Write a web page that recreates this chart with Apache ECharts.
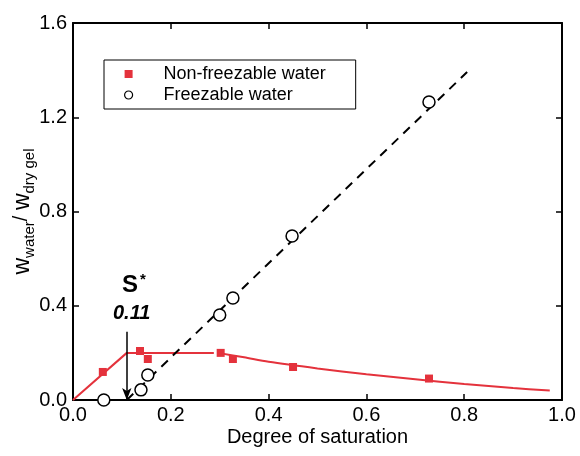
<!DOCTYPE html>
<html>
<head>
<meta charset="utf-8">
<script src="https://cdn.jsdelivr.net/npm/echarts@6/dist/echarts.min.js"></script>
<style>
  html, body { margin: 0; padding: 0; background: #fff; }
  #chart { width: 580px; height: 456px; }
</style>
</head>
<body>
<div id="chart"></div>
<script>
// data
var nonFreezable = [[0.061, 0.119], [0.137, 0.208], [0.153, 0.174], [0.302, 0.2], [0.327, 0.174], [0.45, 0.14], [0.728, 0.091]];
var freezable = [[0.063, 0.0], [0.139, 0.043], [0.153, 0.106], [0.30, 0.361], [0.327, 0.433], [0.448, 0.696], [0.728, 1.265]];
// fitted lines
var fitRise = [[0, 0], [0.11, 0.2], [0.288, 0.2]];
var fitDecay = [[0.297, 0.2], [0.35, 0.181], [0.4, 0.162], [0.5, 0.134], [0.6, 0.109], [0.7, 0.088], [0.8, 0.068], [0.9, 0.051], [0.975, 0.04]];
var freezableFit = [[0.11, 0], [0.806, 1.392]];
var sStar = 0.11;
var arrowTop = 0.29;

var red = "#e4323c";
var font = "Liberation Sans, Arial, Helvetica, sans-serif";

var chart = echarts.init(document.getElementById("chart"));

var fmt = function (v) { return v.toFixed(1); };
var axisBase = {
  type: "value",
  axisLine: { show: true, onZero: false, lineStyle: { color: "#000", width: 2 } },
  axisTick: { show: true, inside: true, length: 6, lineStyle: { color: "#000", width: 1.5 } },
  splitLine: { show: false }
};

var option = {
  backgroundColor: "#fff",
  animation: false,
  textStyle: { fontFamily: font },
  grid: { left: 73, right: 18, top: 23, bottom: 56, containLabel: false, outerBoundsMode: "none" },
  legend: {
    orient: "vertical",
    left: 104,
    top: 60,
    width: 227,
    padding: [5, 30, 5, 20],
    itemGap: 3,
    itemWidth: 8,
    itemHeight: 8,
    borderColor: "#000",
    borderWidth: 1,
    textStyle: { fontFamily: font, fontSize: 18, color: "#000", padding: [0, 0, 0, 26] },
    data: [
      { name: "Non-freezable water", icon: "rect" },
      { name: "Freezable water", icon: "circle", itemStyle: { borderWidth: 1.2 } }
    ]
  },
  xAxis: [
    Object.assign({}, axisBase, {
      min: 0, max: 1, interval: 0.2,
      position: "bottom",
      name: "Degree of saturation",
      nameLocation: "middle",
      nameGap: 27,
      nameMoveOverlap: false,
      nameTextStyle: { fontFamily: font, fontSize: 20, color: "#000" },
      axisLabel: { formatter: fmt, fontFamily: font, fontSize: 20, color: "#000", margin: 5 }
    }),
    Object.assign({}, axisBase, {
      min: 0, max: 1, interval: 0.2,
      position: "top",
      axisLabel: { show: false }
    })
  ],
  yAxis: [
    Object.assign({}, axisBase, {
      min: 0, max: 1.6, interval: 0.4,
      position: "left",
      name: "{w|w}{sub|water}{sl|/ }{w|w}{sub|dry gel}",
      nameLocation: "middle",
      nameGap: 40,
      nameMoveOverlap: false,
      nameRotate: 90,
      nameTextStyle: {
        color: "#000",
        rich: {
          w: { fontFamily: font, fontSize: 23, color: "#000", verticalAlign: "top", lineHeight: 22 },
          sl: { fontFamily: font, fontSize: 20, color: "#000", verticalAlign: "top", lineHeight: 22 },
          sub: { fontFamily: font, fontSize: 15, color: "#000", verticalAlign: "top", lineHeight: 15, padding: [11, 0, 0, 0] }
        }
      },
      axisLabel: { formatter: fmt, fontFamily: font, fontSize: 20, color: "#000", margin: 6 }
    }),
    Object.assign({}, axisBase, {
      min: 0, max: 1.6, interval: 0.4,
      position: "right",
      axisLabel: { show: false }
    })
  ],
  series: [
    {
      name: "fit rise",
      type: "line",
      data: fitRise,
      symbol: "none",
      lineStyle: { color: red, width: 2 },
      silent: true,
      z: 2
    },
    {
      name: "fit decay",
      type: "line",
      data: fitDecay,
      smooth: 0.3,
      symbol: "none",
      lineStyle: { color: red, width: 2 },
      silent: true,
      z: 2
    },
    {
      name: "freezable fit",
      type: "line",
      data: freezableFit,
      symbol: "none",
      lineStyle: { color: "#000", width: 2, type: [9, 7] },
      silent: true,
      z: 2,
      markLine: {
        silent: true,
        symbol: ["none", "arrow"],
        symbolSize: [7, 12],
        label: { show: false },
        lineStyle: { color: "#000", width: 1.5, type: "solid" },
        data: [[{ coord: [sStar, arrowTop] }, { coord: [sStar, 0] }]]
      }
    },
    {
      name: "Non-freezable water",
      type: "scatter",
      data: nonFreezable,
      symbol: "rect",
      symbolSize: 8,
      itemStyle: { color: red, opacity: 1 },
      z: 4
    },
    {
      name: "Freezable water",
      type: "scatter",
      data: freezable,
      symbol: "circle",
      symbolSize: 12,
      itemStyle: { color: "#fff", borderColor: "#000", borderWidth: 1.5, opacity: 1 },
      z: 5
    }
  ],
  graphic: [
    {
      type: "text",
      left: 122,
      top: 272,
      style: {
        text: "{s|S}{st|*}",
        rich: {
          s: { fontFamily: font, fontSize: 24, fontWeight: "bold", fill: "#000", verticalAlign: "bottom" },
          st: { fontFamily: font, fontSize: 15, fontWeight: "bold", fill: "#000", verticalAlign: "top", padding: [0, 0, 10, 2] }
        }
      }
    },
    {
      type: "text",
      left: 113,
      top: 303,
      style: {
        text: "0.11",
        fontFamily: font,
        fontSize: 20,
        fontWeight: "bold",
        fontStyle: "italic",
        fill: "#000"
      }
    }
  ]
};

chart.setOption(option);
</script>
</body>
</html>
